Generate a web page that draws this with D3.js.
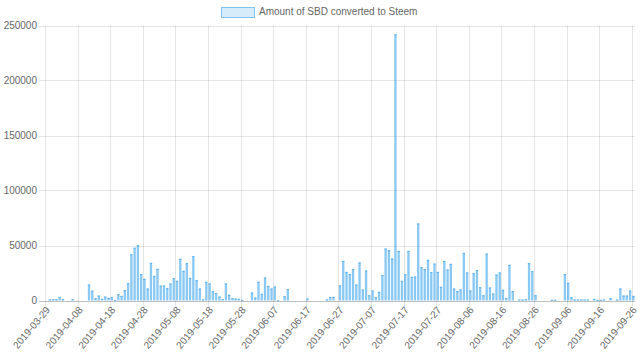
<!DOCTYPE html>
<html lang="en">
<head>
  <meta charset="UTF-8" />
  <title>Amount of SBD converted to Steem</title>
  <script src="https://d3js.org/d3.v7.min.js"></script>
  <style>
    body {margin: 0; background: #fff;}
    svg {display: block; font-family: "Liberation Sans", Arial, Helvetica, sans-serif;}
    .tick text {fill: #666; font-size: 10px;}
  </style>
</head>
<body>
<script>
  // daily categories 2019-03-29 .. 2019-09-26 (one day absent in the source data)
  const firstDay = "2019-03-29";
  const lastDay = "2019-09-26";
  const absentDay = "2019-08-31";

  const tickLabels = ["2019-03-29", "2019-04-08", "2019-04-18", "2019-04-28", "2019-05-08",
                      "2019-05-18", "2019-05-28", "2019-06-07", "2019-06-17", "2019-06-27",
                      "2019-07-07", "2019-07-17", "2019-07-27", "2019-08-06", "2019-08-16",
                      "2019-08-26", "2019-09-06", "2019-09-16", "2019-09-26"];

  const yTicks = [0, 50000, 100000, 150000, 200000, 250000];

  const seriesName = "Amount of SBD converted to Steem";

  const sbdConverted = [
    0, 1000, 1200, 1200, 3300, 1200, 0, 0, 1200, 0,
    0, 0, 0, 14500, 9000, 2000, 4500, 1500, 3600, 2400,
    3000, 600, 5800, 4200, 9400, 15800, 42000, 48000, 50300, 24000,
    19700, 10900, 34200, 22400, 28800, 13600, 13600, 11200, 15500, 20300,
    17900, 37900, 27000, 33900, 20600, 40300, 18500, 10900, 1200, 17000,
    15500, 8500, 6700, 3600, 1200, 15500, 5200, 2100, 1800, 1500,
    600, 0, 0, 7300, 2700, 17000, 6100, 20900, 13300, 10900,
    12700, 300, 0, 3900, 10300, 0, 0, 0, 0, 0,
    1800, 0, 0, 0, 0, 0, 1000, 3000, 3300, 0,
    13800, 36000, 26000, 24000, 28500, 14500, 34500, 10000, 27300, 4800,
    9100, 3000, 7900, 23000, 47300, 45800, 38200, 242000, 45100, 17900,
    23900, 45100, 21500, 21800, 70000, 30300, 28500, 37000, 25800, 33600,
    26000, 12400, 36000, 28200, 33300, 10900, 8500, 10000, 43300, 25500,
    9100, 24800, 27600, 12100, 4800, 42700, 11800, 6400, 23600, 25500,
    9700, 2100, 32400, 8500, 0, 900, 900, 1200, 34000, 26700,
    4800, 0, 0, 0, 0, 600, 600, 0, 0, 24000,
    16000, 3000, 900, 900, 900, 900, 900, 0, 1500, 600,
    600, 900, 0, 2100, 0, 900, 10900, 4500, 4500, 9100,
    4200
  ];

  const fmt = d3.timeFormat("%Y-%m-%d");
  const parse = d3.timeParse("%Y-%m-%d");
  const days = d3.timeDay.range(parse(firstDay), d3.timeDay.offset(parse(lastDay), 1))
                 .map(fmt)
                 .filter((d) => d !== absentDay);
  const dataSet = days.map((d, i) => ({date: d, value: sbdConverted[i]}));

  //****CREATE THE SVG CANVAS****
  const width = 640;
  const height = 361;
  const paddingLeft = 45;
  const paddingRight = 5;
  const paddingTop = 25.5;
  const paddingBottom = 60.5;

  const svg = d3.select("body")
                .append("svg")
                .attr("width", width)
                .attr("height", height);

  //****CREATE THE SCALES****
  const xCell = d3.scaleBand()
                  .domain(days)
                  .range([paddingLeft, width - paddingRight]);

  const xScale = d3.scaleBand()
                   .domain(days)
                   .range([paddingLeft, width - paddingRight])
                   .paddingInner(0.28)
                   .paddingOuter(0.14);

  const yScale = d3.scaleLinear()
                   .domain([0, 250000])
                   .range([height - paddingBottom, paddingTop]);

  //****GRID LINES****
  svg.append("g")
     .selectAll("line")
     .data(yTicks)
     .join("line")
     .attr("x1", paddingLeft - 6)
     .attr("x2", width - paddingRight)
     .attr("y1", (d) => Math.round(yScale(d)) + 0.5)
     .attr("y2", (d) => Math.round(yScale(d)) + 0.5)
     .attr("stroke", (d) => d === 0 ? "rgba(0,0,0,0.25)" : "rgba(0,0,0,0.1)");

  svg.append("g")
     .selectAll("line")
     .data(tickLabels)
     .join("line")
     .attr("x1", (d) => Math.round(xCell(d)) + 0.5)
     .attr("x2", (d) => Math.round(xCell(d)) + 0.5)
     .attr("y1", yScale(250000))
     .attr("y2", yScale(0) + 6)
     .attr("stroke", "rgba(0,0,0,0.1)");

  //****CREATE THE AXIS****
  const yAxis = d3.axisLeft(yScale)
                  .tickValues(yTicks)
                  .tickFormat(d3.format("d"))
                  .tickSize(0)
                  .tickPadding(8);

  svg.append("g")
     .attr("transform", `translate(${paddingLeft}, 0)`)
     .call(yAxis)
     .call((g) => g.select(".domain").remove());

  const xAxis = d3.axisBottom(xScale)
                  .tickValues(tickLabels)
                  .tickSize(0);

  svg.append("g")
     .attr("transform", `translate(0, ${height - paddingBottom})`)
     .call(xAxis)
     .call((g) => g.select(".domain").remove())
     .selectAll("text")
     .attr("text-anchor", "end")
     .attr("dy", null)
     .attr("y", 0)
     .attr("dominant-baseline", "middle")
     .attr("transform", "translate(2, 8) rotate(-50)");

  //****CREATE THE BARS****
  svg.append("g")
     .selectAll("rect")
     .data(dataSet.filter((d) => d.value > 0))
     .join("rect")
     .attr("x", (d) => xScale(d.date))
     .attr("width", xScale.bandwidth())
     .attr("y", (d) => yScale(d.value))
     .attr("height", (d) => yScale(0) - yScale(d.value))
     .attr("fill", "rgba(54,162,235,0.58)");

  svg.append("g")
     .selectAll("rect")
     .data(dataSet.filter((d) => d.value > 0))
     .join("rect")
     .attr("x", (d) => xScale(d.date))
     .attr("width", xScale.bandwidth())
     .attr("y", (d) => yScale(d.value))
     .attr("height", 1)
     .attr("fill", "rgba(54,162,235,0.6)");

  //****CREATE THE LEGEND****
  const legend = svg.append("g")
                    .attr("transform", "translate(221, 7)");

  legend.append("rect")
        .attr("x", 0.5)
        .attr("y", 0.5)
        .attr("width", 33)
        .attr("height", 10)
        .attr("fill", "rgba(54,162,235,0.2)")
        .attr("stroke", "rgba(54,162,235,0.6)")
        .attr("stroke-width", 1);

  legend.append("text")
        .attr("x", 38)
        .attr("y", 5.5)
        .attr("dominant-baseline", "middle")
        .attr("fill", "#666")
        .attr("font-size", "10px")
        .text(seriesName);
</script>
</body>
</html>
